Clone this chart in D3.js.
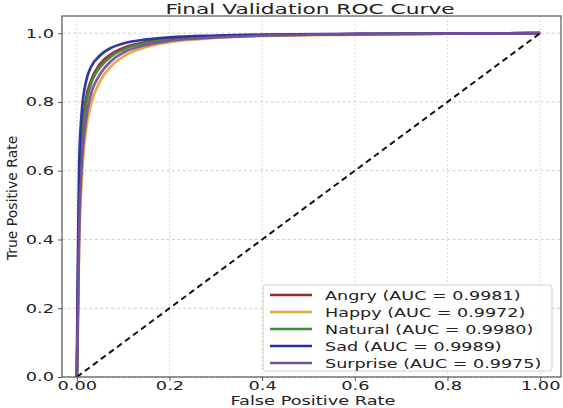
<!DOCTYPE html>
<html>
<head>
<meta charset="utf-8">
<script src="https://cdn.jsdelivr.net/npm/d3@7"></script>
<style>
  body { margin: 0; background: #fff; }
  svg { display: block; }
  text { font-family: "DejaVu Sans", sans-serif; fill: #222; }
</style>
</head>
<body>
<svg id="chart" width="563" height="408"></svg>
<script>
// ROC points
var fpr = [0, 0.002, 0.005, 0.01, 0.02, 0.03, 0.05, 0.075, 0.1, 0.15, 0.2, 0.3, 0.4, 0.6, 0.8, 1.0];
var tprAngry = [0, 0.20, 0.50, 0.68, 0.81, 0.86, 0.91, 0.940, 0.957, 0.975, 0.984, 0.991, 0.994, 0.997, 0.999, 1];
var tprHappy = [0, 0.12, 0.38, 0.56, 0.72, 0.79, 0.86, 0.905, 0.932, 0.960, 0.974, 0.986, 0.992, 0.996, 0.999, 1];
var tprNatural = [0, 0.18, 0.47, 0.65, 0.79, 0.85, 0.90, 0.933, 0.952, 0.972, 0.982, 0.990, 0.994, 0.997, 0.999, 1];
var tprSad = [0, 0.30, 0.62, 0.76, 0.86, 0.90, 0.935, 0.958, 0.970, 0.982, 0.988, 0.993, 0.996, 0.998, 0.999, 1];
var tprSurprise = [0, 0.15, 0.42, 0.60, 0.75, 0.82, 0.88, 0.920, 0.943, 0.966, 0.978, 0.988, 0.993, 0.997, 0.999, 1];

var classNames = ['Angry', 'Happy', 'Natural', 'Sad', 'Surprise'];
var aucValues = ['0.9981', '0.9972', '0.9980', '0.9989', '0.9975'];
var classColors = ['#8e2c2c', '#e8a43c', '#3f8a3f', '#23309a', '#7a509e'];
var tprSeries = [tprAngry, tprHappy, tprNatural, tprSad, tprSurprise];

var xTicks = [0, 0.2, 0.4, 0.6, 0.8, 1.0];
var xTickLabels = ['0.00', '0.2', '0.4', '0.6', '0.8', '1.00'];
var yTicks = [0, 0.2, 0.4, 0.6, 0.8, 1.0];

var svg = d3.select('#chart');
var frame = {left: 62, right: 561, top: 16, bottom: 377};

// the source picture is stretched sideways, so texts get widened by a factor
function widen(sel, k) {
  sel.each(function() {
    var w = this.getComputedTextLength();
    d3.select(this).attr('textLength', w * k).attr('lengthAdjust', 'spacingAndGlyphs');
  });
}

var x = d3.scaleLinear().domain([-0.032, 1.045]).range([frame.left, frame.right]);
var y = d3.scaleLinear().domain([0, 1.05]).range([frame.bottom, frame.top]);

// grid
var grid = svg.append('g');
grid.selectAll('.vgrid').data(xTicks).enter().append('line')
  .attr('x1', d => x(d)).attr('x2', d => x(d))
  .attr('y1', frame.top).attr('y2', frame.bottom)
  .attr('stroke', '#c8c8c8').attr('stroke-width', 0.9).attr('stroke-dasharray', '1.5,2.5');
grid.selectAll('.hgrid').data(yTicks).enter().append('line')
  .attr('x1', frame.left).attr('x2', frame.right)
  .attr('y1', d => y(d)).attr('y2', d => y(d))
  .attr('stroke', '#c8c8c8').attr('stroke-width', 0.9).attr('stroke-dasharray', '3,2.5');

// curves
var line = d3.line()
  .x(d => x(d[0]))
  .y(d => y(d[1]))
  .curve(d3.curveMonotoneX);

var curves = svg.append('g');
tprSeries.forEach(function(tpr, i) {
  curves.append('path')
    .datum(fpr.map((f, j) => [f, tpr[j]]))
    .attr('d', line)
    .attr('fill', 'none')
    .attr('stroke', classColors[i])
    .attr('stroke-width', 2.7)
    .attr('stroke-opacity', 0.95)
    .attr('stroke-linejoin', 'round');
});

// chance diagonal
svg.append('path')
  .datum([[0, 0], [1, 1]])
  .attr('d', d3.line().x(d => x(d[0])).y(d => y(d[1])))
  .attr('stroke', '#111')
  .attr('stroke-width', 2)
  .attr('stroke-dasharray', '6,4')
  .attr('fill', 'none');

// axes
var xAxis = d3.axisBottom(x).tickValues(xTicks)
  .tickFormat((d, i) => xTickLabels[i]).tickSize(4).tickPadding(2);
var yAxis = d3.axisLeft(y).tickValues(yTicks)
  .tickFormat(d3.format('.1f')).tickSize(4).tickPadding(4);

var gx = svg.append('g').attr('transform', 'translate(0,' + frame.bottom + ')').call(xAxis);
var gy = svg.append('g').attr('transform', 'translate(' + frame.left + ',0)').call(yAxis);
gx.select('.domain').remove();
gy.select('.domain').remove();
gx.selectAll('.tick line').attr('stroke', '#555');
gy.selectAll('.tick line').attr('stroke', '#555');
gx.selectAll('.tick text').attr('font-size', 12).attr('font-family', null).attr('fill', '#222')
  .attr('dy', null).attr('y', 13);
gy.selectAll('.tick text').attr('font-size', 12).attr('font-family', null).attr('fill', '#222');
widen(gx.selectAll('.tick text'), 1.48);
widen(gy.selectAll('.tick text'), 1.48);

// frame
svg.append('rect')
  .attr('x', frame.left).attr('y', frame.top)
  .attr('width', frame.right - frame.left).attr('height', frame.bottom - frame.top)
  .attr('fill', 'none').attr('stroke', '#555').attr('stroke-width', 1.2);

// title and axis labels
var title = svg.append('text')
  .attr('x', 310).attr('y', 14)
  .attr('text-anchor', 'middle')
  .attr('font-size', 14)
  .attr('fill', '#111')
  .text('Final Validation ROC Curve');
widen(title, 1.55);

var xLabel = svg.append('text')
  .attr('x', 313).attr('y', 405)
  .attr('text-anchor', 'middle')
  .attr('font-size', 12)
  .text('False Positive Rate');
widen(xLabel, 1.48);

svg.append('text')
  .attr('transform', 'translate(17,198) rotate(-90)')
  .attr('text-anchor', 'middle')
  .attr('font-family', '"Liberation Sans Narrow", "DejaVu Sans Condensed", sans-serif')
  .attr('font-size', 14)
  .text('True Positive Rate');

// legend
var legend = svg.append('g').attr('transform', 'translate(263,285)');
legend.append('rect')
  .attr('width', 289).attr('height', 86)
  .attr('rx', 3)
  .attr('fill', '#fff').attr('fill-opacity', 0.85)
  .attr('stroke', '#cfcfcf');

var rows = legend.selectAll('.row').data(classNames).enter().append('g')
  .attr('transform', (d, i) => 'translate(0,' + (10 + i * 17) + ')');
rows.append('line')
  .attr('x1', 7).attr('x2', 49)
  .attr('stroke', (d, i) => classColors[i])
  .attr('stroke-width', 2.4);
var legendText = rows.append('text')
  .attr('x', 62).attr('y', 5)
  .attr('font-size', 13)
  .text((d, i) => d + ' (AUC = ' + aucValues[i] + ')');
widen(legendText, 1.35);
</script>
</body>
</html>
